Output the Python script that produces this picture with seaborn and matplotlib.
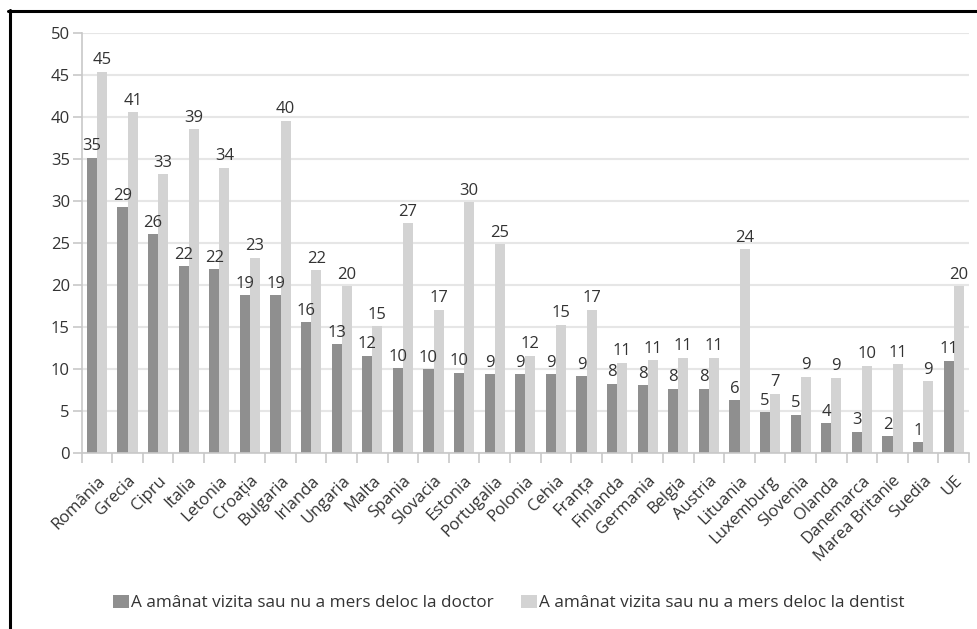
import matplotlib
matplotlib.use("Agg")
import matplotlib.pyplot as plt
from matplotlib.lines import Line2D
from matplotlib.ticker import FixedLocator
import seaborn as sns
import pandas as pd
import numpy as np

tari = ["România", "Grecia", "Cipru", "Italia", "Letonia", "Croația", "Bulgaria",
        "Irlanda", "Ungaria", "Malta", "Spania", "Slovacia", "Estonia", "Portugalia",
        "Polonia", "Cehia", "Franța", "Finlanda", "Germania", "Belgia", "Austria",
        "Lituania", "Luxemburg", "Slovenia", "Olanda", "Danemarca", "Marea Britanie",
        "Suedia", "UE"]
doctor = [35.2, 29.3, 26.1, 22.3, 21.9, 18.8, 18.8, 15.6, 13.0, 11.6, 10.1, 10.0,
          9.6, 9.4, 9.4, 9.4, 9.2, 8.3, 8.1, 7.7, 7.7, 6.3, 4.9, 4.6, 3.55, 2.55,
          2.05, 1.3, 11.0]
dentist = [45.4, 40.6, 33.2, 38.6, 34.0, 23.3, 39.6, 21.8, 19.9, 15.1, 27.4, 17.1,
           29.9, 24.9, 11.6, 15.3, 17.1, 10.8, 11.1, 11.4, 11.4, 24.3, 7.1, 9.1,
           9.0, 10.4, 10.6, 8.6, 19.9]
serii = ["A amânat vizita sau nu a mers deloc la doctor",
         "A amânat vizita sau nu a mers deloc la dentist"]
y_ticks = [0, 5, 10, 15, 20, 25, 30, 35, 40, 45, 50]

df = pd.DataFrame({
    "tara": tari * 2,
    "valoare": doctor + dentist,
    "serie": [serii[0]] * len(tari) + [serii[1]] * len(tari),
})

sns.set_theme(style="white")
plt.rcParams["font.family"] = ["Open Sans", "DejaVu Sans"]

W, H = 977, 629
fig = plt.figure(figsize=(W / 100, H / 100), dpi=100)
ax = fig.add_axes([81.7 / W, 1 - 453.3 / H, (969 - 81.7) / W, (453.3 - 33.3) / H])

dark = "#8f8f8f"
light = "#d3d3d3"
sns.barplot(data=df, x="tara", y="valoare", hue="serie", palette=[dark, light],
            width=0.66, ax=ax, saturation=1, linewidth=0, legend=True)

handles, labels = ax.get_legend_handles_labels()
ax.get_legend().remove()

txtcol = "#333333"
fs = 12
for cont, vals in zip(ax.containers, [doctor, dentist]):
    ax.bar_label(cont, labels=[str(int(round(v + 1e-9))) for v in vals],
                 padding=2.5, fontsize=fs, color=txtcol)

ax.set_ylim(0, 50)
ax.set_xlim(-0.5, len(tari) - 0.5)
ax.yaxis.set_major_locator(FixedLocator(y_ticks))
ax.set_yticklabels([str(t) for t in y_ticks])
ax.grid(axis="y", color="#e6e6e6", linewidth=1.5)
ax.set_axisbelow(True)
ax.set_xlabel("")
ax.set_ylabel("")

gridc = "#c8c8c8"
for s in ["top", "right"]:
    ax.spines[s].set_visible(False)
for s in ["left", "bottom"]:
    ax.spines[s].set_color(gridc)
    ax.spines[s].set_linewidth(1.2)

ax.tick_params(axis="y", which="major", left=True, length=6.5, width=1.2, color=gridc,
               labelsize=fs, labelcolor=txtcol, pad=2)
ax.tick_params(axis="x", which="major", length=0, labelsize=fs, labelcolor=txtcol, pad=14)
ax.xaxis.set_minor_locator(FixedLocator(np.arange(-0.5, len(tari), 1.0)))
ax.tick_params(axis="x", which="minor", bottom=True, length=7, width=1.2, color=gridc)
plt.setp(ax.get_xticklabels(), rotation=45, ha="right", rotation_mode="anchor")

fig.legend(handles, labels, loc="center", bbox_to_anchor=(509 / W, 1 - 603 / H),
           ncol=2, frameon=False, fontsize=12.3, handlelength=0.9, handleheight=0.85,
           handletextpad=0.15, columnspacing=1.6, labelcolor=txtcol)

# outer frame (cropped at right and bottom)
fig.add_artist(Line2D([8 / W, 1.0], [1 - 11 / H, 1 - 11 / H], color="black",
                      linewidth=2.2, transform=fig.transFigure))
fig.add_artist(Line2D([9.5 / W, 9.5 / W], [0.0, 1 - 10 / H], color="black",
                      linewidth=2.2, transform=fig.transFigure))

fig.savefig("out.png", dpi=100)
